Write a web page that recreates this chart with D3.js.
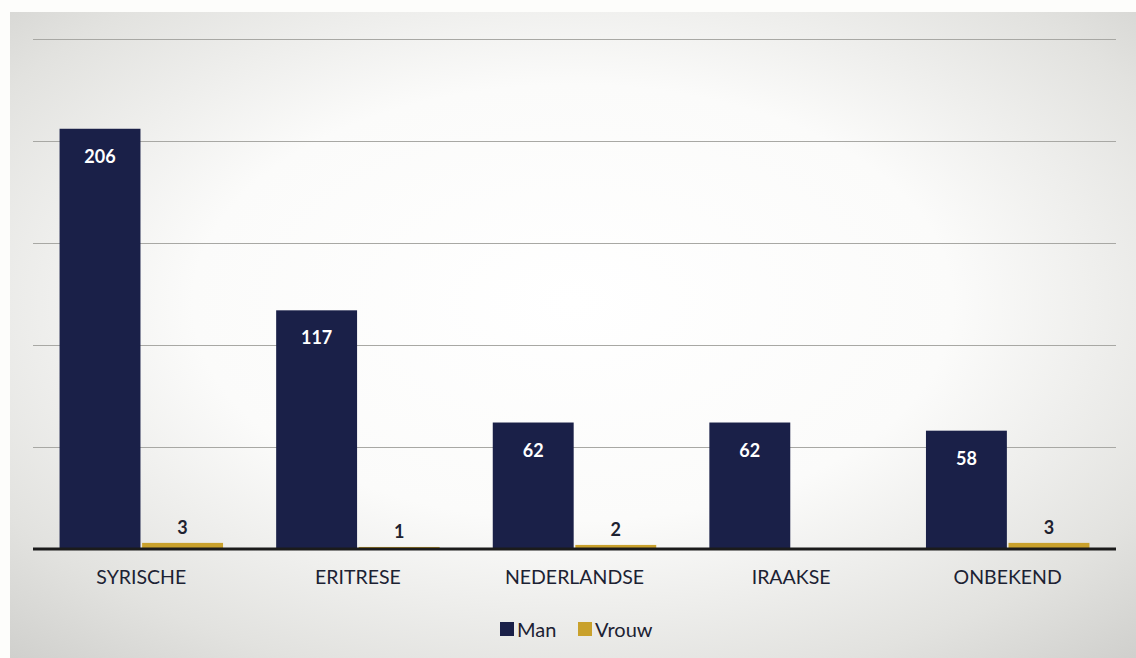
<!DOCTYPE html>
<html><head><meta charset="utf-8">
<script src="https://cdn.jsdelivr.net/npm/d3@7"></script>
<style>html,body{margin:0;padding:0;background:#fff;}svg{display:block;}</style>
</head><body>
<svg id="c" width="1136" height="658"></svg>
<script>
const categories = ["SYRISCHE","ERITRESE","NEDERLANDSE","IRAAKSE","ONBEKEND"];
const seriesNames = ["Man","Vrouw"];
const manValues = [206,117,62,62,58];
const vrouwValues = [3,1,2,null,3];
const gridTicks = [0,50,100,150,200,250];
const colors = {Man:"#1a2048", Vrouw:"#c9a12c"};

const svg = d3.select("#c");
const W = 1136, H = 658;
const font = "Lato, 'Open Sans', sans-serif";

// background: scanned page look
const defs = svg.append("defs");
const rg = defs.append("radialGradient").attr("id","bg").attr("cx","0.5").attr("cy","0.45").attr("r","0.75");
rg.append("stop").attr("offset","0%").attr("stop-color","#ffffff");
rg.append("stop").attr("offset","45%").attr("stop-color","#fbfbfa");
rg.append("stop").attr("offset","80%").attr("stop-color","#e2e2df");
rg.append("stop").attr("offset","100%").attr("stop-color","#cfcfcc");
svg.append("rect").attr("width",W).attr("height",H).attr("fill","#fdfdfb");
svg.append("rect").attr("x",10).attr("y",12).attr("width",W-10).attr("height",H-12).attr("fill","url(#bg)");

const data = categories.map((c,i)=>({cat:c, Man:manValues[i], Vrouw:vrouwValues[i]}));

const x0 = d3.scaleBand().domain(categories).range([33,1116]).paddingInner(0.23).paddingOuter(0.115);
const x1 = d3.scaleBand().domain(seriesNames).range([0,x0.bandwidth()]).padding(0.02);
const y = d3.scaleLinear().domain([0,250]).range([549,39]);

// gridlines
const yAxis = d3.axisLeft(y).tickValues(gridTicks.filter(t=>t>0)).tickSize(-(1116-33)).tickFormat("");
const gy = svg.append("g").attr("transform","translate(33,0)").call(yAxis);
gy.select(".domain").remove();
gy.selectAll(".tick line").attr("stroke","#a8a8a4").attr("stroke-width",1.2);

const g = svg.append("g");
const groups = g.selectAll("g.cat").data(data).join("g").attr("transform",d=>`translate(${x0(d.cat)},0)`);

groups.selectAll("rect").data(d=>seriesNames.filter(s=>d[s]!=null).map(s=>({s, v:d[s]})))
  .join("rect")
  .attr("x",d=>x1(d.s)).attr("width",x1.bandwidth())
  .attr("y",d=>y(d.v)).attr("height",d=>y(0)-y(d.v))
  .attr("fill",d=>colors[d.s]);

// labels
groups.selectAll("text.val").data(d=>seriesNames.filter(s=>d[s]!=null).map(s=>({s, v:d[s]})))
  .join("text").attr("class","val")
  .attr("x",d=>x1(d.s)+x1.bandwidth()/2)
  .attr("y",d=>d.s==="Man" ? y(d.v)+34 : y(d.v)-9)
  .attr("text-anchor","middle")
  .attr("font-family",font).attr("font-weight","bold").attr("font-size",18)
  .attr("fill",d=>d.s==="Man" ? "#ffffff" : "#1e2230")
  .text(d=>d.v);

// baseline axis
const xAxis = d3.axisBottom(x0).tickSize(0).tickPadding(21);
const gx = svg.append("g").attr("transform",`translate(0,${y(0)})`).call(xAxis);
gx.select(".domain").attr("stroke","#1b1b1b").attr("stroke-width",3).attr("d","M33,0H1116");
gx.selectAll("text").attr("font-family",font).attr("font-size",19.5).attr("fill","#1c2233");

// legend
const leg = svg.append("g").attr("transform","translate(500,630)");
const items = [{s:"Man",x:0},{s:"Vrouw",x:78}];
items.forEach(it=>{
  leg.append("rect").attr("x",it.x).attr("y",-8).attr("width",14).attr("height",14).attr("fill",colors[it.s]);
  leg.append("text").attr("x",it.x+17).attr("y",7).attr("font-family",font).attr("font-size",20).attr("fill","#1c2233").text(it.s);
});
</script>
</body></html>
